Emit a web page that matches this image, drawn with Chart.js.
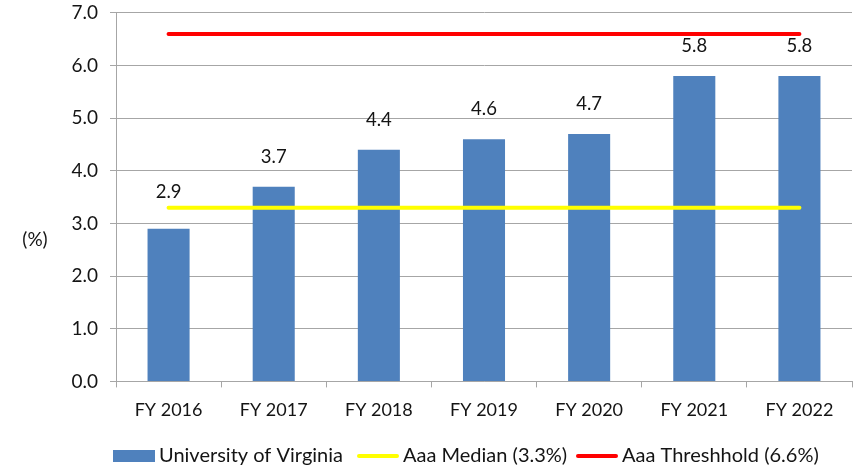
<!DOCTYPE html>
<html>
<head>
<meta charset="utf-8">
<script src="https://cdn.jsdelivr.net/npm/chart.js@4/dist/chart.umd.min.js"></script>
<style>
  html, body { margin: 0; padding: 0; background: #fff; }
  #wrap { width: 858px; height: 468px; }
</style>
</head>
<body>
<div id="wrap"><canvas id="chart"></canvas></div>
<script>
const categories = ['FY 2016', 'FY 2017', 'FY 2018', 'FY 2019', 'FY 2020', 'FY 2021', 'FY 2022'];
const uvaValues = [2.9, 3.7, 4.4, 4.6, 4.7, 5.8, 5.8];
const medianValues = [3.3, 3.3, 3.3, 3.3, 3.3, 3.3, 3.3];
const thresholdValues = [6.6, 6.6, 6.6, 6.6, 6.6, 6.6, 6.6];
const yTicks = [0, 1, 2, 3, 4, 5, 6, 7];

const FONT = 'Lato, "Open Sans", sans-serif';
const TEXT = '#141414';
const GRID = '#a6a6a6';

// labels above the bars only, nudged up if they'd sit on the median line
const barLabels = {
  id: 'barLabels',
  afterDatasetsDraw(chart) {
    const ctx = chart.ctx;
    const meta = chart.getDatasetMeta(2);
    const yScale = chart.scales.y;
    ctx.save();
    ctx.font = '18.5px ' + FONT;
    ctx.fillStyle = TEXT;
    ctx.textAlign = 'center';
    ctx.textBaseline = 'middle';
    meta.data.forEach((bar, i) => {
      let y = bar.y - 30;
      const lineY = yScale.getPixelForValue(medianValues[i]);
      if (Math.abs(y - lineY) < 14) y = lineY - 16;
      ctx.fillText(uvaValues[i].toFixed(1), bar.x, y);
    });
    ctx.restore();
  }
};

// horizontal "(%)" axis title + legend at the bottom
const extras = {
  id: 'extras',
  afterDraw(chart) {
    const ctx = chart.ctx;
    ctx.save();
    ctx.font = '19px ' + FONT;
    ctx.fillStyle = TEXT;
    ctx.textBaseline = 'middle';
    ctx.textAlign = 'center';
    ctx.fillText('(%)', 35, 240);

    const y = 456;
    const items = [
      { x: 113, ds: chart.data.datasets[2], box: true },
      { x: 357, ds: chart.data.datasets[1], box: false },
      { x: 576, ds: chart.data.datasets[0], box: false }
    ];
    ctx.font = '20px ' + FONT;
    ctx.textAlign = 'left';
    items.forEach(it => {
      if (it.box) {
        ctx.fillStyle = it.ds.backgroundColor;
        ctx.fillRect(it.x, y - 6, 42, 12);
      } else {
        ctx.strokeStyle = it.ds.borderColor;
        ctx.lineWidth = 4;
        ctx.lineCap = 'round';
        ctx.beginPath();
        ctx.moveTo(it.x + 2, y);
        ctx.lineTo(it.x + 40, y);
        ctx.stroke();
      }
      ctx.fillStyle = TEXT;
      ctx.fillText(it.ds.label, it.x + 46, y);
    });
    ctx.restore();
  }
};

new Chart(document.getElementById('chart'), {
  data: {
    labels: categories,
    datasets: [
      {
        type: 'line',
        label: 'Aaa Threshhold (6.6%)',
        data: thresholdValues,
        borderColor: '#ff0000',
        borderWidth: 4,
        pointRadius: 0,
        borderCapStyle: 'round',
        order: 0
      },
      {
        type: 'line',
        label: 'Aaa Median (3.3%)',
        data: medianValues,
        borderColor: '#ffff00',
        borderWidth: 4,
        pointRadius: 0,
        borderCapStyle: 'round',
        order: 1
      },
      {
        type: 'bar',
        label: 'University of Virginia',
        data: uvaValues,
        backgroundColor: '#4f81bd',
        categoryPercentage: 1,
        barPercentage: 0.4,
        order: 2
      }
    ]
  },
  options: {
    responsive: true,
    maintainAspectRatio: false,
    animation: false,
    layout: { padding: { top: 0, right: 6, bottom: 35, left: 0 } },
    plugins: {
      legend: { display: false },
      tooltip: { enabled: false }
    },
    scales: {
      x: {
        grid: { drawOnChartArea: false, drawTicks: true, tickLength: 6, color: GRID, offset: true },
        border: { color: GRID, width: 1 },
        ticks: { color: TEXT, font: { family: FONT, size: 18 }, padding: 12 }
      },
      y: {
        min: 0,
        max: 7,
        afterBuildTicks(scale) { scale.ticks = yTicks.map(v => ({ value: v })); },
        afterFit(scale) { scale.width = 116; },
        grid: { color: GRID, tickLength: 6 },
        border: { color: GRID, width: 1 },
        ticks: {
          color: TEXT,
          font: { family: FONT, size: 19, lineHeight: 0.1 },
          padding: 12,
          callback: v => Number(v).toFixed(1)
        }
      }
    }
  },
  plugins: [barLabels, extras]
});
</script>
</body>
</html>
